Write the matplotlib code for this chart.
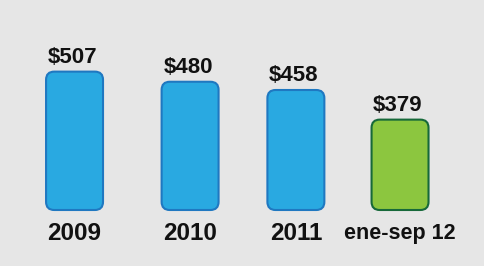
import matplotlib.pyplot as plt
from matplotlib.patches import FancyBboxPatch

categorias = ["2009", "2010", "2011", "ene-sep 12"]
valores = [507, 480, 458, 379]
etiquetas = ["$507", "$480", "$458", "$379"]
relleno = ["#29a9e1", "#29a9e1", "#29a9e1", "#8cc63f"]
borde = ["#1f78c1", "#1f78c1", "#1f78c1", "#17693a"]

plt.rcParams['font.family'] = ['Liberation Sans', 'DejaVu Sans']

fig = plt.figure(figsize=(4.85, 2.66), dpi=100)
fig.patch.set_facecolor("#e6e6e6")
ax = fig.add_axes([0, 56 / 266, 1, 190 / 266])
ax.set_facecolor("#e6e6e6")

# the slide does not space the bars quite evenly
pos = [0, 1.065, 2.04, 3]
ancho = 0.525
base = 138
esc = 0.375  # px per value
ax.set_xlim(-0.687, 3.783)
ax.set_ylim(base, base + 190 / esc)

# px per unit, to keep the corners round
asp = (485 / 4.47) / esc
for i, v in enumerate(valores):
    ax.add_patch(FancyBboxPatch((pos[i] - ancho / 2, base), ancho, v - base,
                                boxstyle="round,pad=0,rounding_size=0.075",
                                mutation_aspect=asp,
                                facecolor=relleno[i], edgecolor=borde[i],
                                linewidth=1.5, clip_on=False))
    ax.annotate(etiquetas[i], (pos[i], v), xytext=(-1.5, 6.5), textcoords="offset points",
                ha="center", va="baseline", fontsize=16, fontweight="bold",
                color="#111111")

ax.set_xticks(pos)
ax.set_xticklabels(categorias, fontsize=17.5, fontweight="bold", color="#111111")
ax.get_xticklabels()[-1].set_fontsize(15.5)
ax.tick_params(axis="x", length=0, pad=9)
ax.set_yticks([])
for s in ax.spines.values():
    s.set_visible(False)

fig.savefig("out.png", dpi=100, facecolor=fig.get_facecolor())
